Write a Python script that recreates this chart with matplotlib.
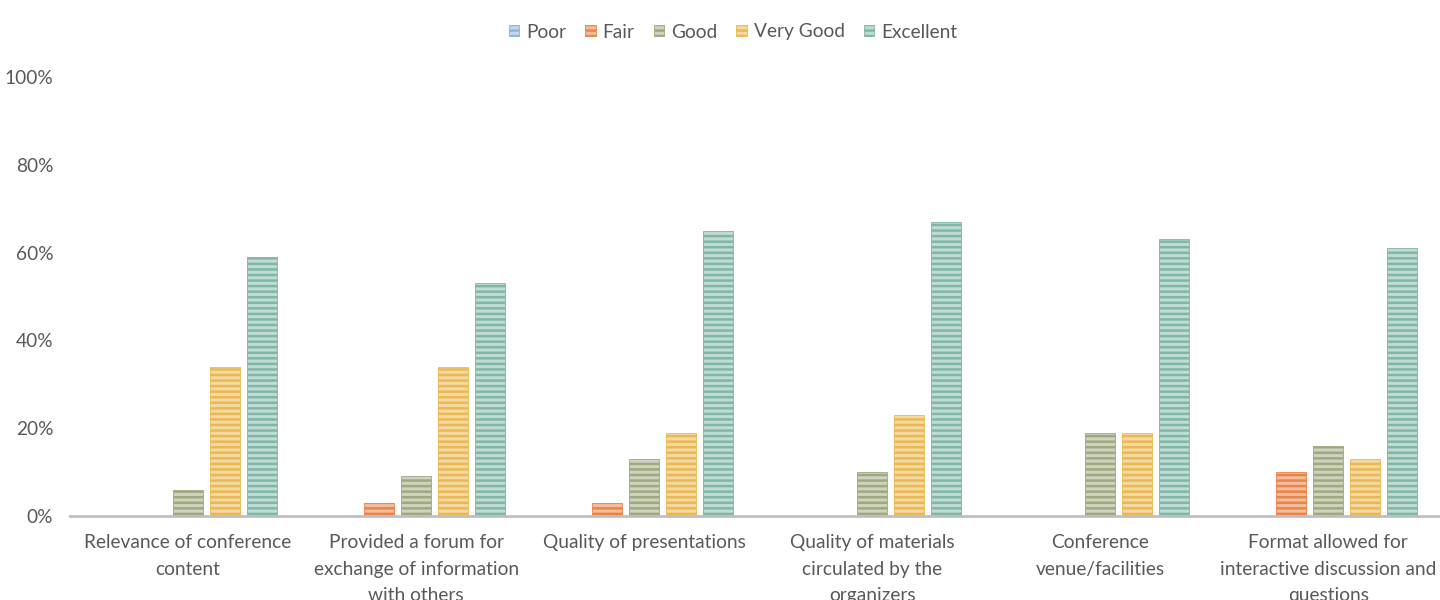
import matplotlib
matplotlib.use('Agg')
import matplotlib.pyplot as plt
import numpy as np

categories = ['Relevance of conference\ncontent',
              'Provided a forum for\nexchange of information\nwith others',
              'Quality of presentations',
              'Quality of materials\ncirculated by the\norganizers',
              'Conference\nvenue/facilities',
              'Format allowed for\ninteractive discussion and\nquestions']
series = ['Poor', 'Fair', 'Good', 'Very Good', 'Excellent']
poor = [0, 0, 0, 0, 0, 0]
fair = [0, 3, 3, 0, 0, 10]
good = [6, 9, 13, 10, 19, 16]
very_good = [34, 34, 19, 23, 19, 13]
excellent = [59, 53, 65, 67, 63, 61]
values = [poor, fair, good, very_good, excellent]

line_cols = ['#8eb4d9', '#e98449', '#9fa981', '#e9b852', '#80b5a7']
fill_cols = ['#c3d7ec', '#f4bc9c', '#cdd3bc', '#f4d9a2', '#bfdcd4']

plt.rcParams['font.family'] = ['Lato', 'DejaVu Sans']
plt.rcParams['hatch.linewidth'] = 1.8

fig = plt.figure(figsize=(14.4, 6), dpi=100)
ax = fig.add_axes([70/1440, 84/600, 1370/1440, 439/600])

x = np.arange(len(categories))
slot = 0.162
width = 0.13
handles = []
for i, (name, vals) in enumerate(zip(series, values)):
    b = ax.bar(x + (i - 2) * slot, vals, width, color=fill_cols[i],
               edgecolor=line_cols[i], hatch='---', linewidth=0.6, label=name)
    handles.append(b)

ax.set_xlim(-0.5175, 5.49)
ax.set_ylim(0, 100)
ax.set_yticks([0, 20, 40, 60, 80, 100])
ax.set_yticklabels(['0%', '20%', '40%', '60%', '80%', '100%'])
ax.set_xticks(x)
ax.set_xticklabels(categories, linespacing=1.68)
ax.tick_params(axis='both', length=0, colors='#595959', labelsize=13.8)
ax.tick_params(axis='y', pad=12)
ax.tick_params(axis='x', pad=13)
for s in ['top', 'right', 'left']:
    ax.spines[s].set_visible(False)
ax.spines['bottom'].set_color('#bfbfbf')
ax.spines['bottom'].set_linewidth(2)

leg = fig.legend(handles=handles, labels=series, loc='center', ncol=5,
                 bbox_to_anchor=(733/1440, 1 - 32/600), frameon=False,
                 fontsize=13.8, handlelength=0.55, handleheight=0.55,
                 handletextpad=0.35, columnspacing=1.0)
for t in leg.get_texts():
    t.set_color('#595959')

fig.savefig('out.png', dpi=100)
